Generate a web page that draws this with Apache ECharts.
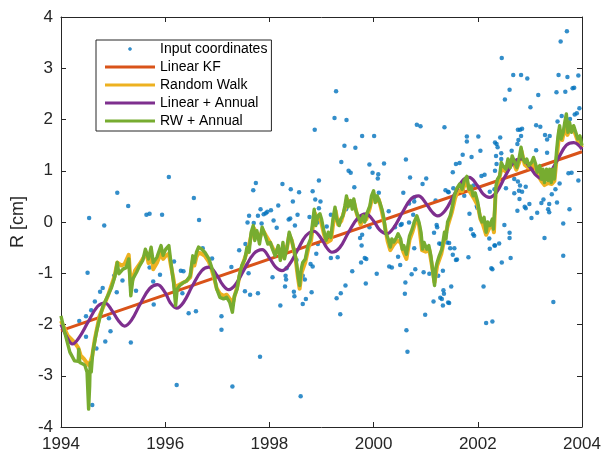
<!DOCTYPE html>
<html><head><meta charset="utf-8">
<script src="https://cdn.jsdelivr.net/npm/echarts@6/dist/echarts.min.js"></script>
<style>html,body{margin:0;padding:0;background:#fff}#c{width:606px;height:457px}</style>
</head><body><div id="c"></div>
<script>
var seriesNames = ['Input coordinates','Linear KF','Random Walk','Linear + Annual','RW + Annual'];

var inputCoords = [
[1994.54,0.08],[1994.83,-0.07],[1995.08,0.57],[1995.29,0.31],[1995.64,0.14],[1995.70,0.16],[1995.94,0.14],[1996.07,0.88],
[1994.51,-0.99],[1995.02,-1.05],[1995.18,-1.14],[1995.07,-1.37],[1995.44,-1.34],[1994.75,-1.36],[1994.80,-1.29],[1994.65,-1.55],
[1994.58,-1.72],[1994.48,-1.84],[1994.35,-1.93],[1994.48,-2.24],[1994.92,-1.88],[1994.95,-2.13],[1994.85,-2.33],[1994.68,-2.47],
[1995.34,-2.35],[1994.60,-3.57],[1995.70,-0.89],[1995.90,-1.03],[1995.77,-1.16],[1995.78,-1.61],[1996.17,-0.77],[1996.30,-0.95],
[1996.35,-0.96],[1996.33,-1.39],[1996.45,-1.78],[1996.59,-1.74],[1996.22,-3.18],[1996.55,0.47],[1996.65,0.04],[1996.72,-0.51],
[1996.90,-0.71],[1997.27,-0.88],[1997.08,-1.84],[1997.08,-2.10],[1997.29,-3.21],
[1997.74,0.76],[1997.69,0.62],[1998.25,0.74],[1998.41,0.64],[1998.57,0.58],[1998.83,0.60],[1998.95,0.81],[1998.45,0.40],
[1998.17,0.32],[1998.88,0.44],[1998.98,0.40],[1997.83,0.25],[1998.03,0.23],[1997.96,0.20],[1997.93,0.17],[1997.89,0.15],
[1997.61,0.12],[1997.78,0.12],[1997.85,-0.03],[1998.08,0.03],[1997.70,-0.02],[1997.58,-0.01],[1998.54,0.14],[1998.37,0.05],
[1998.40,0.07],[1998.77,0.10],[1998.92,-0.01],[1998.14,-0.11],[1998.49,-0.07],[1998.93,-0.43],[1998.87,1.80],[1998.95,0.27],
[1997.42,-0.55],[1997.54,-0.43],[1997.56,-0.85],[1997.60,-1.00],[1997.53,-1.35],[1997.63,-1.42],[1997.78,-1.39],[1998.06,-1.08],
[1998.33,-0.90],[1998.31,-1.05],[1998.32,-1.12],[1998.30,-1.26],[1998.47,-1.36],[1998.48,-1.45],[1998.64,-1.60],[1998.70,-1.50],
[1998.81,-1.37],[1998.21,-1.63],[1997.82,-2.63],[1998.60,-3.40],[1998.52,-0.74],[1998.64,-1.05],[1998.68,-1.12],[1998.79,-0.82],
[1998.90,-0.62],[1998.83,-0.87],
[1999.28,2.55],[1999.25,2.03],[1999.48,1.99],[1999.78,1.68],[2000.01,1.68],[1999.44,1.49],[1999.65,1.45],[1999.38,1.17],
[1999.92,1.12],[2000.20,1.14],[1999.52,1.00],[1999.56,0.96],[1999.98,0.96],[2000.09,0.93],[2000.08,0.85],[1999.63,0.68],
[1999.47,0.25],[1999.18,0.14],[2000.10,0.57],[2000.62,1.22],[2000.83,1.90],[2000.90,1.87],[2001.36,1.85],[2000.70,0.87],
[2001.01,0.85],[2000.94,0.74],[2000.57,0.57],[2000.68,0.36],[2000.78,0.40],[2000.76,0.14],[2000.68,-0.01],[2000.54,-0.04],
[2000.52,-0.06],[2000.41,-0.10],[2001.43,0.59],[2001.21,-0.06],[2001.22,-0.10],[2001.39,-0.21],[2000.29,0.21],[1999.74,-0.31],
[1999.78,-0.25],[1999.10,-0.09],[1999.18,-0.70],[1999.31,-0.69],[1999.83,-0.70],[1999.86,-0.72],[1999.76,-0.79],[1999.59,-0.96],
[1999.46,-1.24],[1999.37,-1.39],[1999.29,-1.49],[1999.36,-1.80],[1999.85,-1.20],[2000.06,-1.01],[2000.30,-0.87],[2000.35,-0.89],
[2000.47,-0.68],[2000.51,-0.84],[2000.61,-1.18],[2000.60,-1.40],[2000.73,-1.02],[2000.80,-0.92],[2000.96,-0.98],[2001.07,-1.01],
[2000.99,-1.81],[2001.15,-1.55],[2001.24,-1.05],[2001.28,-1.48],[2001.33,-1.63],[2001.43,-1.57],[2001.35,-1.40],[2000.63,-2.11],
[2000.65,-2.53],[1999.92,-0.10],[1999.77,-0.46],[2001.19,0.42],[2000.78,0.48],[2001.16,-0.21],[2001.26,-0.42],[2000.78,-0.51],
[2003.71,3.72],[2003.59,3.52],[2002.46,3.20],[2002.68,2.87],[2002.83,2.87],[2002.95,2.80],[2003.55,2.87],[2003.72,2.83],
[2003.93,2.86],[2003.82,2.61],[2003.85,2.62],[2003.68,2.54],[2003.51,2.53],[2002.61,2.58],[2002.52,2.39],[2003.16,2.48],
[2003.01,2.24],[2003.95,2.22],[2003.90,2.12],[2003.86,2.10],[2003.77,2.01],[2003.53,1.96],[2003.61,2.07],[2003.12,1.89],
[2003.20,1.86],[2001.79,1.67],[2001.79,1.57],[2002.01,1.67],[2002.43,1.65],[2002.77,1.80],[2002.81,1.80],[2002.85,1.82],
[2002.83,1.68],[2002.78,1.60],[2002.76,1.52],[2002.33,1.55],[2002.36,1.52],[2002.38,1.46],[2003.29,1.70],[2003.38,1.68],
[2003.33,1.61],[2002.05,1.39],[2001.71,1.31],[2001.88,1.27],[2002.45,1.34],[2002.35,1.29],[2002.45,1.23],[2002.65,1.39],
[2003.12,1.40],[2001.65,1.15],[2002.36,1.13],[2002.48,1.07],[2001.52,0.97],[2002.07,0.90],[2002.13,0.92],[2003.33,1.35],
[2003.57,0.75],[2003.74,0.95],[2003.80,0.96],[2003.93,0.81],[2001.53,0.66],[2001.74,0.51],[2001.92,0.71],[2002.54,0.66],
[2002.70,0.84],[2002.77,0.79],[2002.81,0.71],[2002.79,0.61],[2002.70,0.56],[2002.80,0.45],[2002.85,0.59],[2002.92,0.69],
[2002.99,0.35],[2002.76,0.22],[2002.92,0.27],[2002.90,0.30],[2003.03,0.08],[2003.14,0.18],[2003.22,0.37],[2003.26,0.44],
[2003.37,0.35],[2003.35,0.25],[2003.37,0.19],[2003.42,0.54],[2003.49,0.64],[2003.52,0.38],[2003.76,0.25],[2003.64,-0.03],
[2002.23,0.59],[2001.99,0.28],[2001.84,0.16],[2001.87,-0.14],[2001.91,-0.24],[2001.93,-0.27],[2001.82,-0.69],[2002.51,-0.06],
[2002.61,-0.21],[2002.61,-0.31],[2002.41,-0.42],[2002.23,-0.52],[2002.33,-0.46],[2002.46,-0.79],[2002.63,-0.70],[2002.26,-0.90],
[2002.11,-1.26],[2002.16,-1.97],[2002.28,-1.94],[2003.28,-0.31],[2003.45,-1.56],[2003.64,-0.66],[2001.29,-0.43],[2001.41,-0.40],
[2001.45,-0.41],[2001.47,-0.51],[2001.55,-0.51],[2001.60,-0.73],[2001.33,-0.95],[2001.49,-1.26],[2001.34,-1.33],[2001.31,-1.50],
[2001.45,-1.58],[2001.58,1.13],[2001.38,0.62],[2001.44,0.58],[2001.72,0.61],[2002.32,0.64],[2002.33,1.00],[2001.98,0.31],
[2002.22,-0.32],[2001.52,-0.64],[2001.58,-0.74],[2002.32,-0.46],[2002.28,-0.92]
];

var linearKF = [[1994,-2.12],[2004,1.37]];

var randomWalk = [
[1994.00,-1.93],[1994.13,-2.22],[1994.26,-2.35],[1994.33,-2.45],[1994.38,-2.61],[1994.44,-2.67],[1994.49,-2.74],[1994.54,-2.80],
[1994.60,-2.61],[1994.65,-2.28],[1994.74,-1.83],[1994.90,-1.44],[1995.03,-1.05],[1995.08,-0.79],[1995.16,-0.85],[1995.22,-0.82],
[1995.30,-0.64],[1995.34,-1.24],[1995.42,-0.95],[1995.51,-0.82],[1995.64,-0.60],[1995.68,-0.80],[1995.73,-0.62],[1995.77,-0.92],
[1995.84,-0.80],[1995.92,-0.60],[1995.96,-0.72],[1996.01,-0.66],[1996.07,-0.62],[1996.11,-0.85],[1996.16,-1.12],[1996.20,-1.40],
[1996.23,-1.25],[1996.28,-1.22],[1996.35,-1.18],[1996.41,-1.15],[1996.48,-1.08],[1996.53,-0.75],[1996.56,-0.85],[1996.60,-0.68],
[1996.64,-0.60],[1996.70,-0.62],[1996.76,-0.66],[1996.84,-0.78],[1996.89,-0.92],[1996.94,-1.10],[1996.99,-1.30],[1997.05,-1.40],
[1997.12,-1.44],[1997.18,-1.42],[1997.24,-1.50],[1997.29,-1.62],[1997.33,-1.45],[1997.38,-1.28],[1997.45,-0.95],[1997.53,-0.70],
[1997.60,-0.50],[1997.66,-0.22],[1997.70,-0.12],[1997.76,-0.22],[1997.82,-0.30],[1997.87,-0.15],[1997.93,-0.26],[1998.00,-0.38],
[1998.06,-0.50],[1998.11,-0.62],[1998.17,-0.50],[1998.22,-0.70],[1998.27,-0.48],[1998.33,-0.55],[1998.38,-0.25],[1998.43,-0.36],
[1998.50,-0.70],[1998.55,-1.10],[1998.58,-1.30],[1998.62,-0.98],[1998.69,-0.78],[1998.75,-0.50],[1998.80,-0.36],[1998.84,-0.05],
[1998.87,0.18],[1998.92,0.05],[1998.97,0.10],[1999.05,-0.25],[1999.10,-0.40],[1999.18,-0.35],[1999.23,0.00],[1999.27,0.22],
[1999.32,-0.05],[1999.38,0.02],[1999.45,0.26],[1999.49,0.45],[1999.55,0.35],[1999.62,0.40],[1999.68,0.15],[1999.75,-0.05],
[1999.80,0.06],[1999.86,0.05],[1999.93,0.28],[1999.97,0.46],[2000.00,0.55],[2000.05,0.40],[2000.10,0.44],[2000.16,0.20],
[2000.21,-0.05],[2000.27,-0.38],[2000.32,-0.55],[2000.38,-0.45],[2000.45,-0.36],[2000.52,-0.40],[2000.57,-0.58],[2000.63,-0.72],
[2000.69,-0.35],[2000.75,-0.18],[2000.82,0.06],[2000.87,-0.04],[2000.93,-0.55],[2001.00,-0.58],[2001.07,-0.55],[2001.12,-0.85],
[2001.17,-1.18],[2001.22,-0.85],[2001.30,-0.62],[2001.37,-0.28],[2001.43,-0.05],[2001.50,0.18],[2001.56,0.45],[2001.62,0.62],
[2001.70,0.60],[2001.78,0.82],[2001.84,0.60],[2001.92,0.47],[2002.00,0.32],[2002.05,0.06],[2002.10,-0.05],[2002.16,-0.25],
[2002.22,-0.12],[2002.28,-0.05],[2002.31,-0.20],[2002.34,0.55],[2002.40,0.82],[2002.46,1.05],[2002.54,0.98],[2002.60,1.15],
[2002.66,1.22],[2002.74,1.02],[2002.80,1.18],[2002.84,1.38],[2002.90,1.12],[2002.97,1.06],[2003.05,1.12],[2003.10,1.08],
[2003.15,0.92],[2003.22,0.80],[2003.28,0.72],[2003.35,0.76],[2003.42,0.74],[2003.47,0.80],[2003.52,1.30],[2003.57,1.80],
[2003.62,1.60],[2003.68,1.90],[2003.72,1.70],[2003.78,1.85],[2003.85,1.78],[2003.92,1.58],[2004.00,1.45]
];

var linearAnnual = [
[1994.00,-2.00],[1994.10,-2.22],[1994.22,-2.38],[1994.35,-2.25],[1994.52,-1.95],[1994.70,-1.65],[1994.84,-1.58],[1994.98,-1.73],
[1995.10,-1.92],[1995.22,-2.03],[1995.35,-1.92],[1995.52,-1.60],[1995.70,-1.30],[1995.85,-1.22],[1996.00,-1.38],[1996.10,-1.58],
[1996.22,-1.68],[1996.35,-1.57],[1996.52,-1.25],[1996.70,-0.95],[1996.84,-0.88],[1997.00,-1.05],[1997.10,-1.22],[1997.22,-1.32],
[1997.35,-1.22],[1997.52,-0.92],[1997.70,-0.62],[1997.86,-0.54],[1998.00,-0.70],[1998.12,-0.88],[1998.24,-0.95],[1998.37,-0.85],
[1998.54,-0.55],[1998.70,-0.27],[1998.85,-0.18],[1999.00,-0.33],[1999.10,-0.50],[1999.20,-0.59],[1999.35,-0.50],[1999.52,-0.20],
[1999.70,0.08],[1999.85,0.16],[2000.00,0.02],[2000.12,-0.16],[2000.25,-0.23],[2000.38,-0.12],[2000.55,0.18],[2000.72,0.45],
[2000.86,0.51],[2001.00,0.37],[2001.12,0.20],[2001.23,0.12],[2001.37,0.22],[2001.54,0.52],[2001.70,0.80],[2001.83,0.87],
[2002.00,0.70],[2002.10,0.55],[2002.22,0.48],[2002.36,0.58],[2002.53,0.90],[2002.70,1.18],[2002.84,1.23],[2003.00,1.07],
[2003.12,0.91],[2003.25,0.84],[2003.38,0.95],[2003.55,1.25],[2003.70,1.50],[2003.84,1.55],[2004.00,1.42]
];

var rwAnnual = [
[1994.00,-1.83],[1994.07,-2.15],[1994.17,-2.54],[1994.26,-2.71],[1994.33,-2.72],[1994.34,-2.48],[1994.36,-2.74],[1994.42,-2.77],
[1994.46,-2.80],[1994.50,-2.93],[1994.53,-3.65],[1994.55,-3.20],[1994.56,-2.75],[1994.58,-2.93],[1994.61,-2.54],[1994.68,-2.15],
[1994.74,-1.89],[1994.81,-1.63],[1994.87,-1.50],[1994.97,-1.28],[1995.03,-1.08],[1995.08,-0.79],[1995.11,-1.01],[1995.19,-0.92],
[1995.25,-0.89],[1995.30,-0.72],[1995.34,-1.44],[1995.38,-1.11],[1995.45,-0.98],[1995.51,-0.85],[1995.57,-0.75],[1995.62,-0.53],
[1995.68,-0.72],[1995.73,-0.49],[1995.77,-0.79],[1995.84,-0.69],[1995.92,-0.46],[1995.96,-0.65],[1996.01,-0.53],[1996.07,-0.46],
[1996.11,-0.79],[1996.16,-1.18],[1996.20,-1.63],[1996.23,-1.31],[1996.28,-1.24],[1996.35,-1.18],[1996.41,-1.15],[1996.48,-1.05],
[1996.53,-0.66],[1996.56,-0.79],[1996.60,-0.59],[1996.64,-0.49],[1996.70,-0.53],[1996.76,-0.59],[1996.84,-0.72],[1996.89,-0.88],
[1996.94,-1.05],[1996.99,-1.31],[1997.05,-1.47],[1997.12,-1.50],[1997.18,-1.47],[1997.24,-1.57],[1997.29,-1.76],[1997.33,-1.44],
[1997.38,-1.31],[1997.42,-1.05],[1997.47,-0.85],[1997.53,-0.72],[1997.57,-0.49],[1997.61,-0.59],[1997.65,-0.20],[1997.69,-0.07],
[1997.72,-0.36],[1997.76,-0.17],[1997.81,-0.43],[1997.86,-0.10],[1997.92,-0.27],[1997.97,-0.43],[1998.02,-0.40],[1998.06,-0.53],
[1998.11,-0.66],[1998.17,-0.46],[1998.21,-0.75],[1998.26,-0.40],[1998.29,-0.72],[1998.34,-0.49],[1998.38,-0.20],[1998.42,-0.33],
[1998.47,-0.53],[1998.51,-0.72],[1998.55,-1.05],[1998.58,-1.24],[1998.61,-0.92],[1998.64,-0.79],[1998.69,-0.72],[1998.74,-0.46],
[1998.79,-0.33],[1998.83,-0.01],[1998.86,0.25],[1998.89,-0.07],[1998.93,0.12],[1998.97,0.16],[1999.00,0.06],[1999.05,-0.20],
[1999.09,-0.36],[1999.13,-0.20],[1999.18,-0.30],[1999.22,0.06],[1999.26,0.29],[1999.29,0.06],[1999.34,-0.07],[1999.37,0.06],
[1999.41,0.12],[1999.45,0.32],[1999.48,0.51],[1999.51,0.29],[1999.56,0.42],[1999.59,0.25],[1999.62,0.45],[1999.66,0.22],
[1999.71,0.09],[1999.75,0.00],[1999.80,0.12],[1999.83,0.00],[1999.88,0.19],[1999.93,0.32],[1999.96,0.51],[2000.00,0.61],
[2000.03,0.38],[2000.07,0.51],[2000.12,0.38],[2000.16,0.25],[2000.20,0.06],[2000.23,-0.20],[2000.28,-0.33],[2000.32,-0.49],
[2000.35,-0.33],[2000.39,-0.39],[2000.44,-0.30],[2000.47,-0.23],[2000.52,-0.33],[2000.55,-0.53],[2000.58,-0.46],[2000.63,-0.63],
[2000.69,-0.27],[2000.74,-0.14],[2000.78,0.00],[2000.83,0.12],[2000.87,0.00],[2000.91,-0.20],[2000.94,-0.53],[2000.97,-0.40],
[2001.02,-0.53],[2001.06,-0.46],[2001.10,-0.66],[2001.13,-0.92],[2001.17,-1.24],[2001.19,-0.92],[2001.22,-0.79],[2001.26,-0.66],
[2001.31,-0.53],[2001.36,-0.20],[2001.39,-0.33],[2001.42,0.00],[2001.47,0.12],[2001.50,0.25],[2001.55,0.51],[2001.59,0.64],
[2001.65,0.74],[2001.70,0.64],[2001.74,0.81],[2001.79,0.89],[2001.83,0.64],[2001.87,0.70],[2001.91,0.51],[2001.95,0.57],
[2002.00,0.38],[2002.04,0.12],[2002.08,0.00],[2002.12,0.09],[2002.16,-0.20],[2002.19,0.00],[2002.23,-0.07],[2002.28,0.06],
[2002.30,-0.14],[2002.33,0.32],[2002.35,0.71],[2002.38,0.84],[2002.42,0.90],[2002.45,1.16],[2002.48,1.10],[2002.54,1.03],
[2002.58,1.23],[2002.62,1.06],[2002.66,1.29],[2002.71,1.16],[2002.75,1.06],[2002.79,1.23],[2002.83,1.46],[2002.87,1.23],
[2002.91,1.16],[2002.94,1.23],[2002.98,1.10],[2003.03,1.16],[2003.07,1.26],[2003.11,1.13],[2003.14,0.97],[2003.19,1.10],
[2003.22,0.84],[2003.25,1.03],[2003.28,0.77],[2003.32,1.03],[2003.35,0.81],[2003.38,1.03],[2003.41,0.77],[2003.44,1.03],
[2003.47,0.84],[2003.51,1.36],[2003.54,1.68],[2003.57,1.88],[2003.60,1.62],[2003.64,1.75],[2003.67,1.95],[2003.70,2.11],
[2003.73,1.75],[2003.76,1.95],[2003.80,1.75],[2003.84,1.88],[2003.88,1.75],[2003.92,1.62],[2003.96,1.68],[2004.00,1.49]
];

var colors = ['#0072BD','#D95319','#EDB120','#7E2F8E','#77AC30'];
var FONT = 'Liberation Sans, Arial, Helvetica, sans-serif';
var AX = '#262626';
var DOT_ICON = 'path://M0,0M50,14M23.3,6.3L24.3,5.3L25.7,5.3L26.7,6.3L26.7,7.7L25.7,8.7L24.3,8.7L23.3,7.7Z';
var LINE_ICON = 'path://M0,0M50,14M0,5.5L50,5.5L50,8.5L0,8.5Z';

var chart = echarts.init(document.getElementById('c'), null, {renderer:'canvas'});
function lineSeries(name, data, color, width, smooth){
  return {name:name, type:'line', data:data, symbol:'none', showSymbol:false, smooth:smooth || false,
    lineStyle:{color:color, width:width, join:'round'}, itemStyle:{color:color}, z:3, silent:true};
}
var tickCommon = {show:true, inside:true, length:5, lineStyle:{color:AX, width:1}};
chart.setOption({
  animation:false,
  textStyle:{fontFamily:FONT},
  grid:{left:61, right:24, top:17, bottom:30, containLabel:false, show:false},
  legend:{
    orient:'vertical', left:96, top:40, padding:[2,4,3,9],
    itemWidth:50, itemHeight:14, itemGap:4,
    borderColor:AX, borderWidth:1, backgroundColor:'#fff',
    textStyle:{fontSize:14, color:'#000', fontFamily:FONT},
    selectedMode:false,
    data:[
      {name:seriesNames[0], icon:DOT_ICON, itemStyle:{color:colors[0], borderWidth:0}},
      {name:seriesNames[1], icon:LINE_ICON, itemStyle:{color:colors[1], borderWidth:0}},
      {name:seriesNames[2], icon:LINE_ICON, itemStyle:{color:colors[2], borderWidth:0}},
      {name:seriesNames[3], icon:LINE_ICON, itemStyle:{color:colors[3], borderWidth:0}},
      {name:seriesNames[4], icon:LINE_ICON, itemStyle:{color:colors[4], borderWidth:0}}
    ]
  },
  xAxis:[
    {type:'value', min:1994, max:2004, interval:2, position:'bottom',
     axisLine:{show:true, onZero:false, lineStyle:{color:AX, width:1}},
     axisTick:tickCommon, splitLine:{show:false},
     axisLabel:{color:AX, fontSize:17, margin:9, fontFamily:FONT, formatter:function(v){return String(v);}}},
    {type:'value', min:1994, max:2004, interval:2, position:'top',
     axisLine:{show:true, onZero:false, lineStyle:{color:AX, width:1}},
     axisTick:tickCommon, splitLine:{show:false}, axisLabel:{show:false}}
  ],
  yAxis:[
    {type:'value', min:-4, max:4, interval:1, position:'left',
     name:'R [cm]', nameLocation:'middle', nameGap:33,
     nameTextStyle:{fontSize:18, color:AX, fontFamily:FONT},
     axisLine:{show:true, onZero:false, lineStyle:{color:AX, width:1}},
     axisTick:tickCommon, splitLine:{show:false},
     axisLabel:{color:AX, fontSize:17, margin:8, fontFamily:FONT}},
    {type:'value', min:-4, max:4, interval:1, position:'right',
     axisLine:{show:true, onZero:false, lineStyle:{color:AX, width:1}},
     axisTick:tickCommon, splitLine:{show:false}, axisLabel:{show:false}}
  ],
  series:[
    {name:seriesNames[0], type:'scatter', data:inputCoords, symbol:'circle', symbolSize:4.5,
     itemStyle:{color:colors[0]}, z:2, silent:true},
    lineSeries(seriesNames[1], linearKF, colors[1], 3),
    lineSeries(seriesNames[2], randomWalk, colors[2], 4),
    lineSeries(seriesNames[3], linearAnnual, colors[3], 3.2, 0.4),
    lineSeries(seriesNames[4], rwAnnual, colors[4], 3.4)
  ]
});
</script></body></html>
